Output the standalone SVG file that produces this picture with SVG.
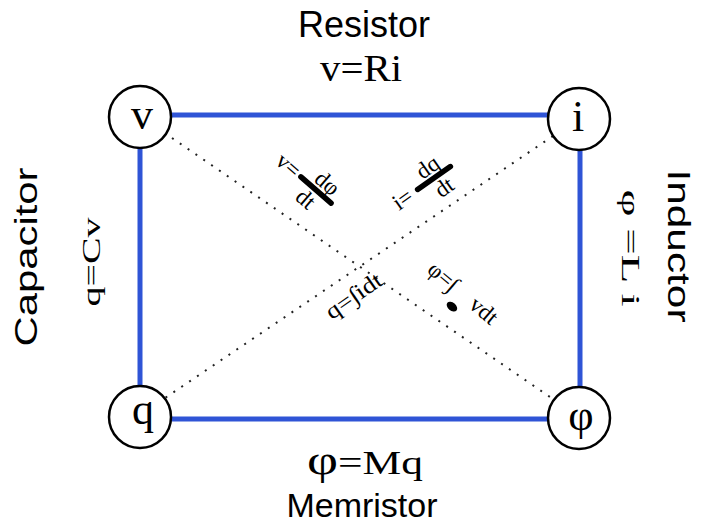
<svg xmlns="http://www.w3.org/2000/svg" width="701" height="525" viewBox="0 0 701 525">
<style>
.edge{stroke:#2f54d6;stroke-width:5;fill:none}
.diag{stroke:#222;stroke-width:2;stroke-dasharray:2 7.5;fill:none}
.node{fill:#fff;stroke:#000;stroke-width:2.5}
.nl{font-family:"Liberation Serif",serif;font-size:44px;text-anchor:middle;fill:#000}
.sans{font-family:"Liberation Sans",Arial,sans-serif;fill:#000}
.serif{font-family:"Liberation Serif",serif;fill:#000}
.eq{font-family:"Liberation Serif",serif;font-size:23px;text-anchor:middle;fill:#000}
.bar{stroke:#000;stroke-width:5.5;stroke-linecap:round}
</style>
<rect width="701" height="525" fill="#fff"/>
<g id="connectors">
<line class="diag" x1="172" y1="138" x2="550" y2="397"/>
<line class="diag" x1="553" y1="136" x2="165" y2="398"/>
<line class="edge" x1="170" y1="115" x2="549" y2="115"/>
<line class="edge" x1="140" y1="147" x2="140" y2="387"/>
<line class="edge" x1="580" y1="149" x2="580" y2="387"/>
<line class="edge" x1="171" y1="419" x2="548" y2="419"/>
</g>
<g id="node-v"><circle class="node" cx="140" cy="117" r="31"/><text class="nl" x="142" y="129">v</text></g>
<g id="node-i"><circle class="node" cx="579" cy="119" r="31"/><text class="nl" x="578" y="131">i</text></g>
<g id="node-q"><circle class="node" cx="140" cy="417" r="31"/><text class="nl" x="143" y="424">q</text></g>
<g id="node-phi"><circle class="node" cx="579" cy="418" r="31"/><text class="nl" x="581" y="430">φ</text></g>
<g id="labels">
<text class="sans" x="364" y="37" font-size="36" text-anchor="middle">Resistor</text>
<text class="serif" x="361" y="81" font-size="38" text-anchor="middle" textLength="82" lengthAdjust="spacingAndGlyphs">v=Ri</text>
<text class="serif" x="365" y="474" font-size="34" text-anchor="middle" textLength="116" lengthAdjust="spacingAndGlyphs"><tspan font-size="42">φ</tspan>=Mq</text>
<text class="sans" x="362" y="517" font-size="34" text-anchor="middle">Memristor</text>
<text class="sans" transform="translate(37,257) rotate(-90)" font-size="31" text-anchor="middle" textLength="179" lengthAdjust="spacingAndGlyphs">Capacitor</text>
<text class="serif" transform="translate(100,262) rotate(-90)" font-size="26" text-anchor="middle" textLength="89" lengthAdjust="spacingAndGlyphs">q=Cv</text>
<text class="sans" transform="translate(668,246) rotate(90)" font-size="31" text-anchor="middle" textLength="153" lengthAdjust="spacingAndGlyphs">Inductor</text>
<text class="serif" transform="translate(622,248) rotate(90)" font-size="26" text-anchor="middle" textLength="117" lengthAdjust="spacingAndGlyphs">φ =L i</text>
</g>
<g id="eq-v" transform="translate(316,190) rotate(41)">
<text class="eq" x="-37" y="7">v=</text>
<line class="bar" x1="-20" y1="0" x2="20" y2="0"/>
<text class="eq" x="4" y="-5">dφ</text>
<text class="eq" x="-2" y="21">dt</text>
</g>
<g id="eq-i" transform="translate(434,178) rotate(-35)">
<text class="eq" x="-38" y="7">i=</text>
<line class="bar" x1="-20" y1="0" x2="20" y2="0"/>
<text class="eq" x="1" y="-5">dq</text>
<text class="eq" x="3" y="21">dt</text>
</g>
<g id="eq-q" transform="translate(358,302) rotate(-35)">
<text class="eq" x="0" y="0" textLength="64" lengthAdjust="spacingAndGlyphs">q=∫idt</text>
</g>
<g id="eq-phi" transform="translate(463,295) rotate(40)">
<text class="eq" x="-27" y="6">φ=∫</text>
<text class="eq" x="26" y="6">vdt</text>
<ellipse cx="-1" cy="16" rx="6" ry="4" fill="#000"/>
</g>
</svg>
